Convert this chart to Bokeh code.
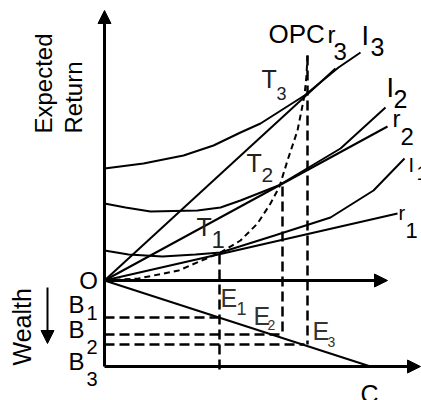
from bokeh.plotting import figure
from bokeh.models import Range1d, Arrow, NormalHead, ColumnDataSource
from bokeh.core.properties import value
from bokeh.embed import file_html
from bokeh.resources import INLINE
import math

# Coordinates: origin O at (0, 0); x = consumption, y > 0 expected return, y < 0 wealth

# Axes (start -> arrow tip)
axis_xs = [0, 0, 0]
axis_ys = [-86, 0, -86]
axis_xe = [0, 283, 316]
axis_ye = [270, 0, -86]

# Wealth direction arrow
wealth_xs = [-57]
wealth_ys = [-7]
wealth_xe = [-57]
wealth_ye = [-63]

# Budget line O -> C
budget_x = [0, 266]
budget_y = [0, -86]

# Rays r1, r2, r3 from O
r1_x = [0, 293]
r1_y = [0, 67]
r2_x = [0, 283]
r2_y = [0, 154]
r3_x = [0, 231]
r3_y = [0, 212]

# Indifference curves
I1_x = [0, 24, 58, 91, 116, 170, 226, 269, 300]
I1_y = [30, 26, 24, 26, 28, 45, 63, 90, 122]
I2_x = [0, 21, 46, 93, 116, 136, 174, 236, 281]
I2_y = [77, 73, 69, 70, 73, 80, 95, 132, 173]
I3_x = [0, 39, 79, 109, 136, 156, 200, 234, 256]
I3_y = [112, 117, 125, 135, 148, 157, 185, 213, 228]

# Optimal portfolio curve (OPC)
opc_x = [0, 34, 74, 116, 136, 153, 166, 175, 183, 193, 200, 202, 203]
opc_y = [0, 2, 10, 28, 40, 57, 77, 94, 120, 150, 185, 205, 225]

# Tangency points T1, T2, T3 and budget points E1, E2, E3
T_x = [115, 178, 203]
T_y = [26, 94, 225]
E_y = [-37, -54, -64]
E_x = [115, 178, 200]
drop_bottom = [-92, -55, -64]

p = figure(width=421, height=400, x_range=Range1d(-104, 317), y_range=Range1d(-120, 280),
           output_backend="svg", toolbar_location=None, min_border=0,
           x_axis_location=None, y_axis_location=None)
p.grid.visible = False
p.outline_line_color = None
p.background_fill_color = "white"

axis_src = ColumnDataSource(dict(xs=axis_xs, ys=axis_ys, xe=axis_xe, ye=axis_ye))
p.add_layout(Arrow(end=NormalHead(size=13, fill_color="black", line_color="black"),
                   x_start="xs", y_start="ys", x_end="xe", y_end="ye",
                   source=axis_src, line_width=3, line_color="black"))
w_src = ColumnDataSource(dict(xs=wealth_xs, ys=wealth_ys, xe=wealth_xe, ye=wealth_ye))
p.add_layout(Arrow(end=NormalHead(size=13, fill_color="black", line_color="black"),
                   x_start="xs", y_start="ys", x_end="xe", y_end="ye",
                   source=w_src, line_width=2, line_color="black"))

for xs, ys in [(budget_x, budget_y), (r1_x, r1_y), (r2_x, r2_y), (r3_x, r3_y),
               (I1_x, I1_y), (I2_x, I2_y), (I3_x, I3_y)]:
    p.line(xs, ys, line_color="black", line_width=2)

p.line(opc_x, opc_y, line_color="black", line_width=2, line_dash="6 4")

p.segment(x0=T_x, y0=T_y, x1=T_x, y1=drop_bottom, line_color="black", line_width=2.5, line_dash="10 5")
p.segment(x0=[0, 0, 0], y0=E_y, x1=E_x, y1=E_y, line_color="black", line_width=2.5, line_dash="10 5")

labels = [
    ("O", -16, -9, 24, "black"),
    ("B", -36, -33, 24, "black"), ("1", -18, -40, 20, "black"),
    ("B", -36, -58, 24, "black"), ("2", -18, -74, 20, "black"),
    ("B", -36, -90, 24, "black"), ("3", -18, -106, 20, "black"),
    ("OPC", 164, 237, 26, "black"), ("r", 223, 237, 24, "black"), ("3", 229, 220, 24, "black"),
    ("I", 257, 234, 27, "black"), ("3", 266, 224, 25, "black"),
    ("I", 282, 182, 27, "black"), ("2", 289, 172, 25, "black"),
    ("r", 288, 153, 24, "black"), ("2", 296, 135, 24, "black"),
    ("I", 304, 108, 20, "black"), ("1", 312, 100, 20, "black"),
    ("r", 294, 60, 20, "black"), ("1", 301, 42, 22, "black"),
    ("T", 157, 192, 25, "#222222"), ("3", 172, 180, 18, "#222222"),
    ("T", 142, 108, 25, "#222222"), ("2", 157, 98, 21, "#222222"),
    ("T", 92, 44, 25, "#222222"), ("1", 107, 32, 24, "#222222"),
    ("E", 116, -27, 25, "#333333"), ("1", 132, -35, 18, "#333333"),
    ("E", 149, -45, 25, "#333333"), ("2", 163, -50, 14, "#333333"),
    ("E", 208, -60, 25, "#333333"), ("3", 223, -67, 14, "#333333"),
    ("C", 256, -123, 25, "black"),
]
SHIFT = 0.38  # baseline correction, fraction of font size
lab_text = [l[0] for l in labels]
lab_x = [l[1] for l in labels]
lab_y = [l[2] + SHIFT * l[3] for l in labels]
lab_size = ["%dpx" % l[3] for l in labels]
lab_color = [l[4] for l in labels]
lab_align = ["center"] + ["left"] * (len(labels) - 1)
src = ColumnDataSource(dict(text=lab_text, x=lab_x, y=lab_y, fsize=lab_size, color=lab_color, align=lab_align))
p.text(x="x", y="y", text="text", source=src, text_font=value("Liberation Sans"),
       text_font_size="fsize", text_color="color", text_align="align", text_baseline="alphabetic")

rot_text = ["Expected", "Return", "Wealth"]
rot_size = [24, 24, 25]
rot_x = [-55 - 0.27 * 24, -25 - 0.27 * 24, -76 - 0.27 * 25]
rot_y = [147, 147, -85]
rot = ColumnDataSource(dict(text=rot_text, x=rot_x, y=rot_y, fsize=["%dpx" % s for s in rot_size]))
p.text(x="x", y="y", text="text", source=rot, angle=math.pi / 2, text_font=value("Liberation Sans"),
       text_font_size="fsize", text_color="black", text_align="left", text_baseline="alphabetic")

open("out.html", "w").write(file_html(p, INLINE))
